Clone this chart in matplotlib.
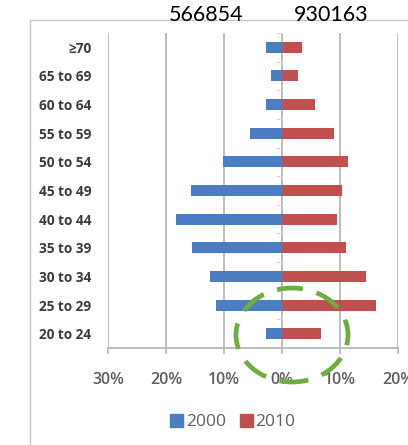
import matplotlib
matplotlib.use("Agg")
import matplotlib.pyplot as plt
from matplotlib.patches import Ellipse, Rectangle
from matplotlib.lines import Line2D
import numpy as np

categories = ["≥70", "65 to 69", "60 to 64", "55 to 59", "50 to 54", "45 to 49",
              "40 to 44", "35 to 39", "30 to 34", "25 to 29", "20 to 24"]
pct_2000 = [2.8, 1.9, 2.8, 5.5, 10.1, 15.7, 18.3, 15.6, 12.4, 11.4, 2.8]
pct_2010 = [3.4, 2.8, 5.7, 8.9, 11.3, 10.4, 9.4, 11.0, 14.5, 16.2, 6.7]
series_names = ["2000", "2010"]
totals = ["566854", "930163"]
xticks = [-30, -20, -10, 0, 10, 20]
xtick_labels = ["30%", "20%", "10%", "0%", "10%", "20%"]

BLUE = "#4A7DC2"
RED = "#C0504D"
GRID = "#bdbdbd"

W, H = 408, 445
fig = plt.figure(figsize=(W / 100, H / 100), dpi=100)
fig.patch.set_facecolor("white")

def fx(px):
    return px / W

def fy(py):
    return 1 - py / H

ax = fig.add_axes([fx(108), fy(348), fx(398) - fx(108), fy(33) - fy(348)])
ax.set_facecolor("none")

y = np.arange(len(categories))
bh = 0.385
ax.barh(y, [-v for v in pct_2000], height=bh, color=BLUE, zorder=3, label=series_names[0])
ax.barh(y, pct_2010, height=bh, color=RED, zorder=3, label=series_names[1])

ax.set_xlim(-30, 20)
ax.set_ylim(len(categories) - 0.5, -0.5)

ax.set_xticks(xticks)
ax.set_xticklabels(xtick_labels, fontsize=11.5, color="#5f5f5f", family="Open Sans",
                   fontweight="semibold")
ax.tick_params(axis="x", length=4, width=1.3, color=GRID, pad=13)
ax.set_yticks(y)
ax.set_yticklabels(categories, fontsize=9.8, color="#3c3c3c", family="Open Sans",
                   fontweight="bold")
ax.tick_params(axis="y", length=0, pad=12)

for xv in xticks:
    ax.axvline(xv, color=GRID, lw=1.4, zorder=1)
# small category ticks on the vertical axis at 0
for b in np.arange(len(categories) + 1) - 0.5:
    ax.plot([-0.8, 0], [b, b], color="#d5d5d5", lw=0.8, zorder=2)

for s in ["top", "right", "left"]:
    ax.spines[s].set_visible(False)
ax.spines["bottom"].set_color(GRID)
ax.spines["bottom"].set_linewidth(1.4)

# outer frame lines
fig.add_artist(Line2D([fx(30), 1], [fy(20), fy(20)], color="#c8c8c8", lw=1.0))
fig.add_artist(Line2D([fx(30), fx(30)], [fy(20), 0], color="#c8c8c8", lw=1.0))

# totals
fig.text(fx(206), fy(15), totals[0], ha="center", va="center", fontsize=15.5,
         family="Lato", color="black")
fig.text(fx(331), fy(15), totals[1], ha="center", va="center", fontsize=15.5,
         family="Lato", color="black")

# legend
handles = [Rectangle((0, 0), 1, 1, color=BLUE), Rectangle((0, 0), 1, 1, color=RED)]
leg = fig.legend(handles, series_names, loc="center", bbox_to_anchor=(fx(233), fy(422)),
                 ncol=2, frameon=False, handlelength=0.75, handleheight=0.75,
                 handletextpad=0.15, columnspacing=0.8,
                 prop={"family": "Open Sans", "size": 12.5})
for t in leg.get_texts():
    t.set_color("#5f5f5f")

# green dashed highlight ellipse
ell = Ellipse((fx(292), fy(335)), fx(112), 94 / H, transform=fig.transFigure,
              fill=False, edgecolor="#6DAE3F", lw=3.4, linestyle=(2, (5.5, 3.0)),
              zorder=10)
fig.add_artist(ell)

fig.savefig("out.png", dpi=100)
